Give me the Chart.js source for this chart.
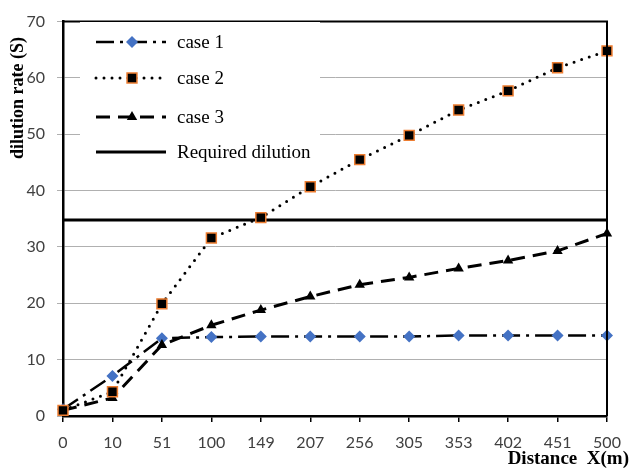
<!DOCTYPE html>
<html>
<head>
<meta charset="utf-8">
<script src="https://cdn.jsdelivr.net/npm/chart.js@4/dist/chart.umd.min.js"></script>
<style>
  html, body { margin: 0; padding: 0; background: #fff; overflow: hidden; }
  canvas { display: block; }
</style>
</head>
<body>
<canvas id="c" width="632" height="476"></canvas>
<script>
// Distance from outfall (m)
const distances = ['0', '10', '51', '100', '149', '207', '256', '305', '353', '402', '451', '500'];
// Dilution rate S for each case
const case1 = [1.2, 7.1, 13.8, 14.0, 14.1, 14.1, 14.1, 14.1, 14.3, 14.3, 14.3, 14.3];
const case2 = [1.0, 4.3, 19.9, 31.6, 35.2, 40.7, 45.5, 49.8, 54.3, 57.7, 61.8, 64.8];
const case3 = [1.0, 3.2, 12.6, 16.1, 18.8, 21.2, 23.3, 24.6, 26.2, 27.6, 29.3, 32.4];
const requiredDilution = 34.8;
const requiredLine = distances.map(() => requiredDilution);
const yTicks = [0, 10, 20, 30, 40, 50, 60, 70];

const seriesNames = ['case 1', 'case 2', 'case 3', 'Required dilution'];

const serif = '"Liberation Serif", "Times New Roman", serif';
const sans = 'Lato, "Open Sans", sans-serif';

// marker drawing shared by the legend
function drawMarker(ctx, style, x, y, r, fill, stroke, lw) {
  ctx.save();
  ctx.setLineDash([]);
  ctx.fillStyle = fill;
  ctx.strokeStyle = stroke;
  ctx.lineWidth = lw;
  ctx.beginPath();
  if (style === 'rectRot') {
    ctx.moveTo(x, y - r); ctx.lineTo(x + r, y); ctx.lineTo(x, y + r); ctx.lineTo(x - r, y);
  } else if (style === 'rect') {
    const s = r * Math.SQRT1_2;
    ctx.rect(x - s, y - s, 2 * s, 2 * s);
  } else if (style === 'triangle') {
    ctx.moveTo(x, y - r); ctx.lineTo(x + r * 0.866, y + r * 0.5); ctx.lineTo(x - r * 0.866, y + r * 0.5);
  }
  ctx.closePath();
  ctx.fill();
  if (lw > 0) ctx.stroke();
  ctx.restore();
}

const frameAndLegend = {
  id: 'frameAndLegend',
  afterDatasetsDraw(chart) {
    const ctx = chart.ctx;
    const a = chart.chartArea;
    ctx.save();
    // top and right frame
    ctx.strokeStyle = '#000';
    ctx.lineWidth = 2;
    ctx.beginPath();
    ctx.moveTo(a.left, a.top);
    ctx.lineTo(a.right, a.top);
    ctx.lineTo(a.right, a.bottom);
    ctx.stroke();

    // legend box
    const bx = 80, by = 22, bw = 240, bh = 150;
    ctx.fillStyle = '#fff';
    ctx.fillRect(bx, by, bw, bh);
    const rows = [42, 78, 117, 152];
    chart.data.datasets.forEach((ds, i) => {
      const y = rows[i];
      ctx.save();
      ctx.strokeStyle = ds.borderColor;
      ctx.lineWidth = ds.borderWidth;
      ctx.lineCap = ds.borderCapStyle || 'butt';
      ctx.setLineDash(ds.borderDash || []);
      ctx.beginPath();
      ctx.moveTo(96, y);
      ctx.lineTo(166, y);
      ctx.stroke();
      ctx.restore();
      if (ds.pointRadius > 0) {
        drawMarker(ctx, ds.pointStyle, 132, y, ds.pointRadius, ds.pointBackgroundColor,
          ds.pointBorderColor, ds.pointBorderWidth);
      }
      ctx.fillStyle = '#000';
      ctx.font = '19px ' + serif;
      ctx.textAlign = 'left';
      ctx.textBaseline = 'middle';
      ctx.fillText(ds.label, 177, y + 1);
    });

    // axis titles
    ctx.fillStyle = '#000';
    ctx.font = 'bold 19px ' + serif;
    ctx.textAlign = 'right';
    ctx.textBaseline = 'middle';
    ctx.fillText('Distance  X(m)', 629, 459);
    ctx.save();
    ctx.font = 'bold 18px ' + serif;
    ctx.translate(18, 98);
    ctx.rotate(-Math.PI / 2);
    ctx.textAlign = 'center';
    ctx.fillText('dilution rate (S)', 0, 0);
    ctx.restore();
    ctx.restore();
  }
};

new Chart(document.getElementById('c'), {
  type: 'line',
  data: {
    labels: distances,
    datasets: [
      {
        label: seriesNames[0], data: case1,
        borderColor: '#000', borderWidth: 2.5, borderDash: [18, 6, 3, 6],
        pointStyle: 'rectRot', pointRadius: 6, pointBackgroundColor: '#4472C4',
        pointBorderColor: '#4472C4', pointBorderWidth: 0, clip: false, order: 3
      },
      {
        label: seriesNames[1], data: case2,
        borderColor: '#000', borderWidth: 3, borderDash: [0, 8], borderCapStyle: 'round',
        pointStyle: 'rect', pointRadius: 7, pointBackgroundColor: '#000',
        pointBorderColor: '#ED7D31', pointBorderWidth: 1.5, clip: false, order: 1
      },
      {
        label: seriesNames[2], data: case3,
        borderColor: '#000', borderWidth: 3, borderDash: [14, 8],
        pointStyle: 'triangle', pointRadius: 6, pointBackgroundColor: '#000',
        pointBorderColor: '#000', pointBorderWidth: 0, clip: false, order: 2
      },
      {
        label: seriesNames[3], data: requiredLine,
        borderColor: '#000', borderWidth: 3, pointRadius: 0, clip: false, order: 4
      }
    ]
  },
  options: {
    responsive: false,
    animation: false,
    devicePixelRatio: 1,
    layout: { padding: { top: 17, right: 25, left: 0, bottom: 0 } },
    plugins: { legend: { display: false }, tooltip: { enabled: false } },
    elements: { line: { tension: 0 } },
    scales: {
      x: {
        type: 'category',
        offset: false,
        grid: { display: true, drawOnChartArea: false, drawTicks: true, tickLength: 6, color: '#000', lineWidth: 1.5 },
        border: { display: true, color: '#000', width: 2.5 },
        ticks: { color: '#404040', font: { family: sans, size: 16 }, padding: 11, maxRotation: 0, autoSkip: false },
        afterFit(s) { s.height = 60; }
      },
      y: {
        min: 0, max: 70,
        afterBuildTicks(s) { s.ticks = yTicks.map(v => ({ value: v })); },
        grid: { color: '#b0b0b0', lineWidth: 1, drawTicks: true, tickLength: 6 },
        border: { display: true, color: '#000', width: 2.5 },
        ticks: { color: '#404040', font: { family: sans, size: 16 }, padding: 12 },
        afterFit(s) { s.width = 63; }
      }
    }
  },
  plugins: [frameAndLegend]
});
</script>
</body>
</html>
